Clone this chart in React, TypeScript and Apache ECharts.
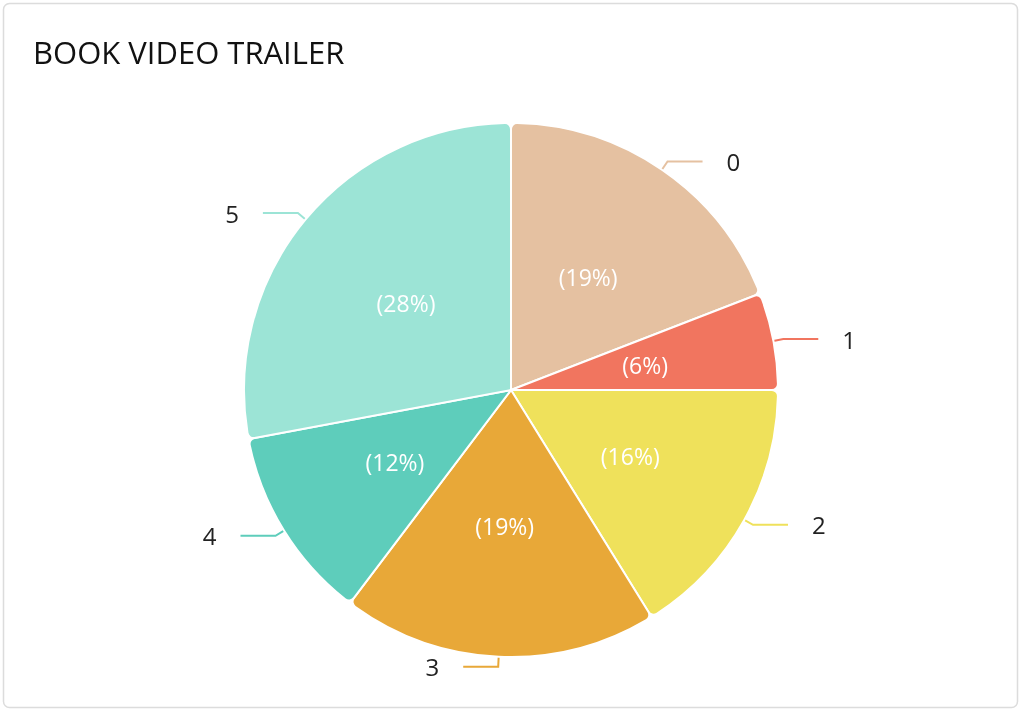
import React, { useEffect, useRef } from "react";
import * as echarts from "echarts";

const title = "BOOK VIDEO TRAILER";
const categories = ["0", "1", "2", "3", "4", "5"];
const values = [13, 4, 11, 13, 8, 19];
const colors = ["#E5C1A1", "#F1755F", "#EFE15B", "#E8A838", "#5ECDBB", "#9CE4D6"];

export default function App() {
  const ref = useRef<HTMLDivElement>(null);
  useEffect(() => {
    document.body.style.margin = "0";
    const chart = echarts.init(ref.current!, undefined, { renderer: "svg" });
    const data = categories.map((c, i) => ({
      name: c,
      value: values[i],
      itemStyle: { color: colors[i] },
    }));
    const base = {
      type: "pie",
      center: [511, 390],
      radius: 267,
      startAngle: 90,
      clockwise: true,
      silent: true,
      emphasis: { disabled: true },
      percentPrecision: 0,
    };
    chart.setOption({
      animation: false,
      title: {
        text: title,
        left: 28,
        top: 31,
        textStyle: { fontSize: 31, fontWeight: "normal", color: "#111", fontFamily: "Open Sans" },
      },
      graphic: [
        {
          type: "rect",
          shape: { x: 3.5, y: 3.5, width: 1014, height: 704, r: 6 },
          style: { fill: "none", stroke: "#dcdcdc", lineWidth: 1.5 },
          silent: true,
        },
      ],
      series: [
        {
          ...base,
          data,
          itemStyle: { borderColor: "#fff", borderWidth: 2, borderRadius: 6 },
          label: {
            show: true,
            position: "outside",
            formatter: "{b}",
            color: "#222",
            fontSize: 24,
            fontFamily: "Open Sans",
            distanceToLabelLine: 24,
          },
          labelLine: { show: true, length: 10, length2: 35, lineStyle: { width: 2 } },
        },
        {
          ...base,
          data: categories.map((c, i) => ({ name: c, value: values[i] })),
          itemStyle: { color: "rgba(0,0,0,0)", borderWidth: 0 },
          label: {
            show: true,
            position: "inside",
            formatter: "({d}%)",
            color: "#fff",
            fontSize: 23,
            fontFamily: "Open Sans",
          },
          labelLine: { show: false },
        },
      ],
    });
    return () => chart.dispose();
  }, []);
  return <div ref={ref} style={{ position: "fixed", left: 0, top: 0, width: 1024, height: 714 }} />;
}
